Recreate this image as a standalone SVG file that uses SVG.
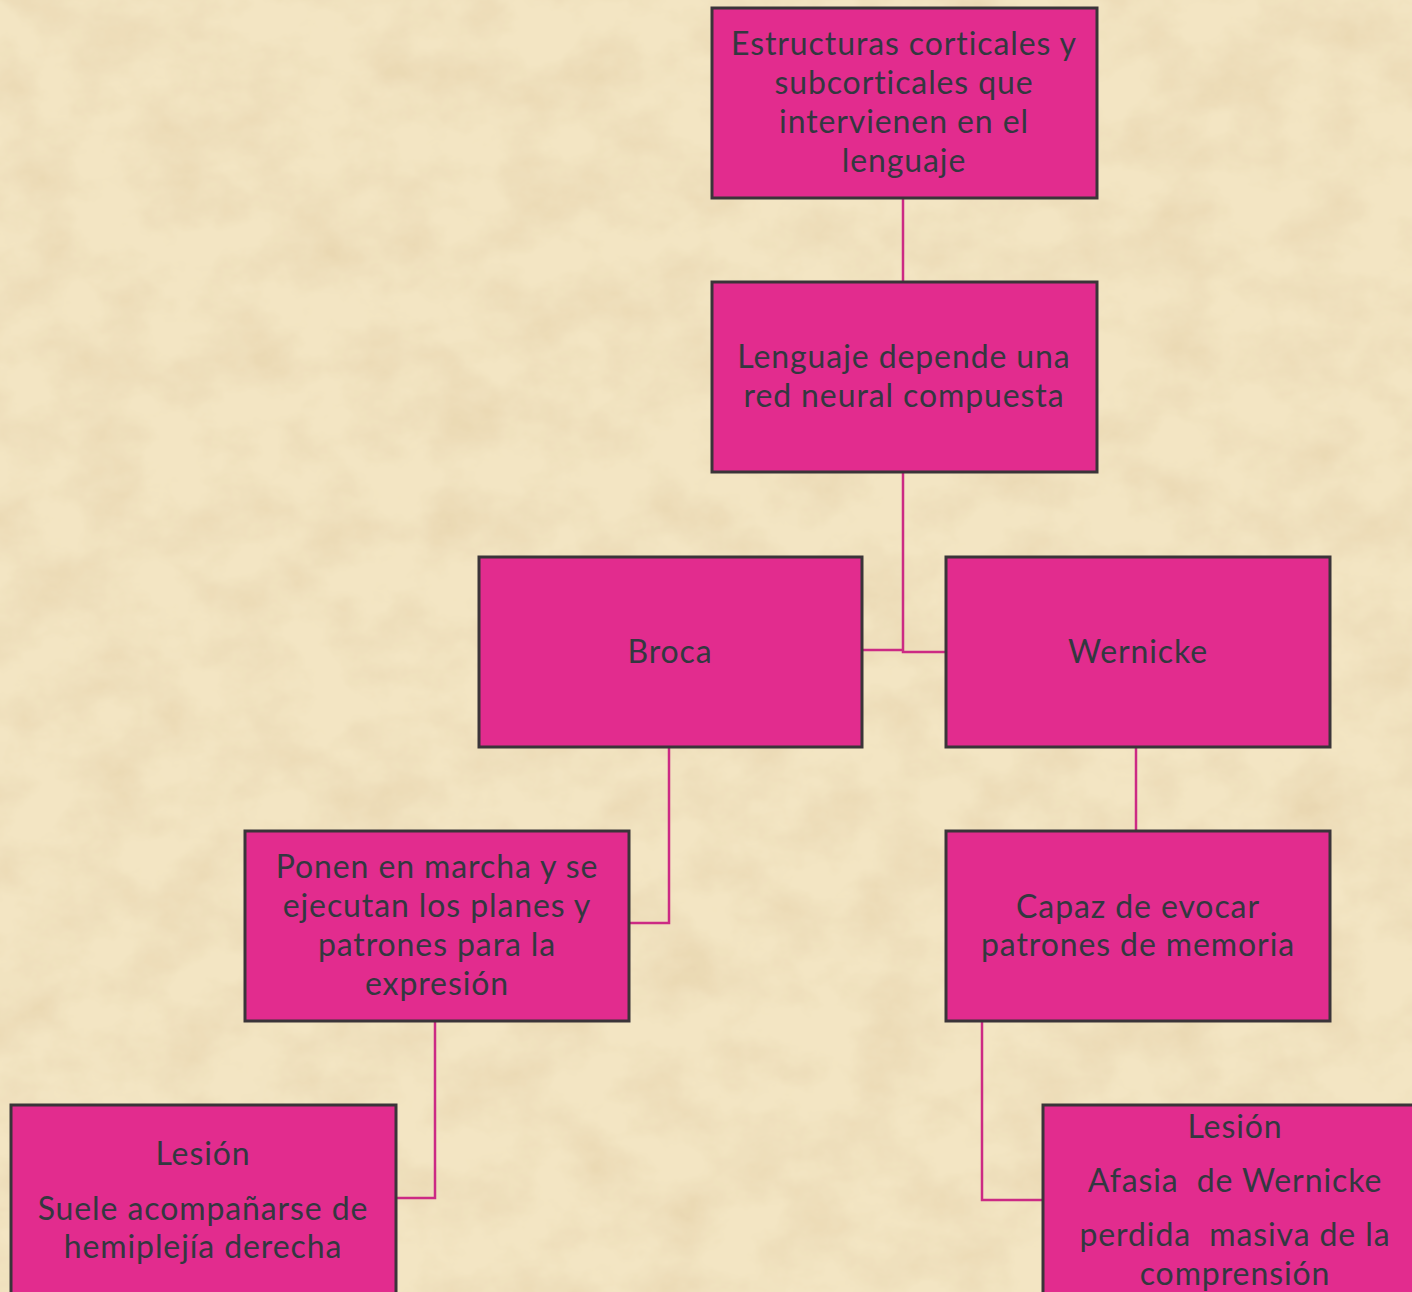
<svg xmlns="http://www.w3.org/2000/svg" width="1412" height="1292" viewBox="0 0 1412 1292">
<defs>
<filter id="paper" x="0" y="0" width="100%" height="100%">
<feTurbulence type="fractalNoise" baseFrequency="0.014 0.018" numOctaves="5" seed="7" result="n"/>
<feColorMatrix in="n" type="matrix" values="0 0 0 0 0.80  0 0 0 0 0.66  0 0 0 0 0.42  0 0 0 1.4 -0.5" result="c"/>
<feComposite in="c" in2="SourceGraphic" operator="over"/>
</filter>
<style>
.box{fill:#e22c8e;stroke:#3a3439;stroke-width:3}
.t{font-family:"Lato","Open Sans","Liberation Sans",sans-serif;font-size:32px;letter-spacing:0.9px;fill:#333840;text-anchor:middle}
.c{fill:none;stroke:#cc2a84;stroke-width:2.5}
</style>
</defs>
<rect x="0" y="0" width="1412" height="1292" fill="#f3e5c3" filter="url(#paper)"/>
<g id="connectors">
<path class="c" d="M903 198 V282"/>
<path class="c" d="M903 472 V652 H946"/>
<path class="c" d="M862 650 H903"/>
<path class="c" d="M669 747 V923 H629"/>
<path class="c" d="M1136 747 V831"/>
<path class="c" d="M435 1021 V1198 H396"/>
<path class="c" d="M982 1021 V1200 H1043"/>
</g>
<g id="n1"><rect class="box" x="712" y="8" width="385" height="190"/>
<text class="t"><tspan x="904" y="55">Estructuras corticales y</tspan><tspan x="904" y="94">subcorticales que</tspan><tspan x="904" y="133">intervienen en el</tspan><tspan x="904" y="172">lenguaje</tspan></text></g>
<g id="n2"><rect class="box" x="712" y="282" width="385" height="190"/>
<text class="t"><tspan x="904" y="368">Lenguaje depende una</tspan><tspan x="904" y="407">red neural compuesta</tspan></text></g>
<g id="n3"><rect class="box" x="479" y="557" width="383" height="190"/>
<text class="t" x="670" y="663">Broca</text></g>
<g id="n4"><rect class="box" x="946" y="557" width="384" height="190"/>
<text class="t" x="1138" y="663">Wernicke</text></g>
<g id="n5"><rect class="box" x="245" y="831" width="384" height="190"/>
<text class="t"><tspan x="437" y="878">Ponen en marcha y se</tspan><tspan x="437" y="917">ejecutan los planes y</tspan><tspan x="437" y="956">patrones para la</tspan><tspan x="437" y="995">expresión</tspan></text></g>
<g id="n6"><rect class="box" x="946" y="831" width="384" height="190"/>
<text class="t"><tspan x="1138" y="918">Capaz de evocar</tspan><tspan x="1138" y="956">patrones de memoria</tspan></text></g>
<g id="n7"><rect class="box" x="11" y="1105" width="385" height="200"/>
<text class="t"><tspan x="203" y="1165">Lesión</tspan><tspan x="203" y="1220">Suele acompañarse de</tspan><tspan x="203" y="1258">hemiplejía derecha</tspan></text></g>
<g id="n8"><rect class="box" x="1043" y="1105" width="385" height="200"/>
<text class="t"><tspan x="1235" y="1138">Lesión</tspan><tspan x="1235" y="1192" xml:space="preserve">Afasia  de Wernicke</tspan><tspan x="1235" y="1246" xml:space="preserve">perdida  masiva de la</tspan><tspan x="1235" y="1285">comprensión</tspan></text></g>
</svg>
